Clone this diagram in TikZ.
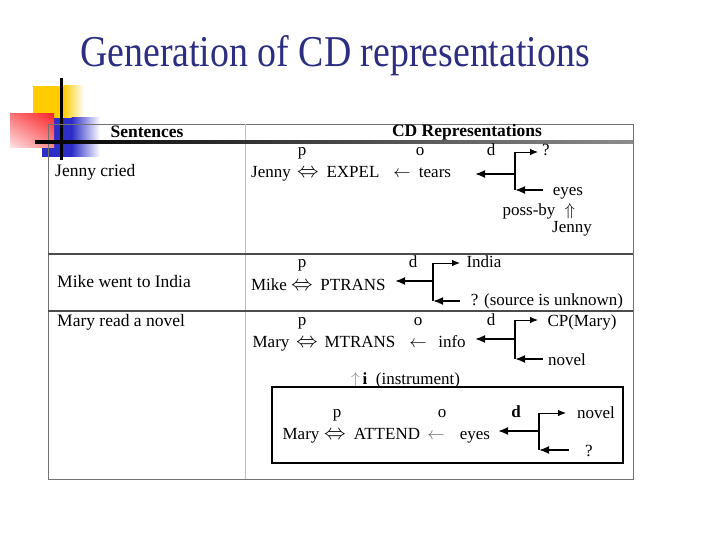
\documentclass[tikz,border=0pt]{standalone}
\usepackage{graphicx}
\usepackage{fontspec}
\setmainfont{Liberation Serif}
\usetikzlibrary{arrows.meta,shadings}
\definecolor{titleB}{RGB}{45,45,130}
\definecolor{decoY}{RGB}{255,204,0}
\definecolor{decoR}{RGB}{250,40,45}
\definecolor{decoB}{RGB}{45,45,200}

\begin{document}
\begin{tikzpicture}[x=1pt,y=-1pt,
  txt/.style={font=\fontsize{17}{19}\selectfont,anchor=base,inner sep=0pt},
  sent/.style={font=\fontsize{17.5}{19}\selectfont,anchor=base west,inner sep=0pt},
  hdr/.style={font=\fontsize{17.5}{19}\selectfont\bfseries,anchor=base,inner sep=0pt},
  thk/.style={-{Latex[length=10pt,width=8pt]},line width=1.8pt},
  thn/.style={-{Latex[length=8pt,width=6.5pt]},line width=0.9pt},
  bar/.style={line width=1.3pt}]
\useasboundingbox (0,0) rectangle (720,540);
% title
\node[anchor=base west,text=titleB,font=\fontsize{44}{48}\selectfont,inner sep=0pt] (title) at (80,67)
  {\scalebox{0.86}[1]{Generation of CD representations}};
% corner decoration
\fill[decoY] (33,86) rectangle (64,120);
\shade[left color=decoY,right color=white] (63.5,86) rectangle (84,120);
\fill[decoB] (42,118) rectangle (72,157);
\shade[left color=decoB,right color=white] (71.5,118) rectangle (100,157);
\shade[upper right=decoR,upper left=decoR!65,lower right=decoR!55,lower left=decoR!12] (10,114) rectangle (54,148);
\draw[line width=3pt] (61,78) -- (61,160);
% table
\draw[black!55,line width=0.8pt] (48,124) rectangle (633,479);
\draw[black!25,line width=0.8pt] (245,124) -- (245,479);
\shade[left color=black,right color=black!45] (35,140.5) rectangle (633,143.5);
\draw[black!70,line width=1.2pt] (48,254) -- (633,254);
\draw[black!70,line width=1.2pt] (48,311) -- (633,311);
\node[hdr] (hS) at (147,138) {Sentences};
\node[hdr] (hCD) at (467,137) {CD Representations};
\node[sent] (s1) at (55,177) {Jenny cried};
\node[sent] (s2) at (57,287) {Mike went to India};
\node[sent] (s3) at (57,326) {Mary read a novel};
% row 1
\foreach \t/\x in {p/302,o/420,d/491} \node[txt] (r1\t) at (\x,156) {\t};
\node[txt] (r1a) at (271,178) {Jenny};
\node[txt] (r1lr) at (308,178) {\scalebox{1.25}{$\Leftrightarrow$}};
\node[txt] (r1act) at (353,178) {EXPEL};
\node[txt] (r1la) at (402,178) {$\leftarrow$};
\node[txt] (r1obj) at (435,178) {tears};
\node[txt] (r1to) at (546,156) {?};
\node[txt] (r1from) at (568,196) {eyes};
\node[txt] (r1pb) at (529,215) {poss-by};
\node[txt] (r1up) at (570,215) {$\Uparrow$};
\node[txt] (r1own) at (572,233) {Jenny};
% row 2
\foreach \t/\x in {p/302,d/413} \node[txt] (r2\t) at (\x,267) {\t};
\node[txt] (r2a) at (269,290) {Mike};
\node[txt] (r2lr) at (302,290) {\scalebox{1.25}{$\Leftrightarrow$}};
\node[txt] (r2act) at (353,290) {PTRANS};
\node[txt] (r2to) at (484,267) {India};
\node[txt] (r2from) at (547,305) {? (source is unknown)};
% row 3
\foreach \t/\x in {p/302,o/418,d/491} \node[txt] (r3\t) at (\x,325) {\t};
\node[txt] (r3a) at (271,347) {Mary};
\node[txt] (r3lr) at (307,347) {\scalebox{1.25}{$\Leftrightarrow$}};
\node[txt] (r3act) at (360,347) {MTRANS};
\node[txt] (r3la) at (418,347) {$\leftarrow$};
\node[txt] (r3obj) at (452,347) {info};
\node[txt] (r3to) at (582,326) {CP(Mary)};
\node[txt] (r3from) at (567,365) {novel};
\node[txt,anchor=base west] (r3inst) at (351,384) {\textcolor{black!45}{$\uparrow$}\,\textbf{i}\ \ (instrument)};
% instrument box
\draw[line width=1.2pt] (272,387) rectangle (623,463);
\foreach \t/\x in {p/337,o/442} \node[txt] (r4\t) at (\x,417) {\t};
\node[txt,font=\fontsize{17}{19}\selectfont\bfseries] (r4d) at (516,417) {d};
\node[txt] (r4a) at (301,439) {Mary};
\node[txt] (r4lr) at (335,439) {\scalebox{1.25}{$\Leftrightarrow$}};
\node[txt] (r4act) at (387,439) {ATTEND};
\node[txt,text=black!60] (r4la) at (436,439) {$\leftarrow$};
\node[txt] (r4obj) at (475,439) {eyes};
\node[txt] (r4to) at (596,418) {novel};
\node[txt] (r4from) at (589,456) {?};
% forks: junction x, top y, mid y, bottom y, mid tip x, top tip x, bottom start x
\foreach \n/\jx/\ty/\my/\by/\mx/\tx/\bx in {1/515/152/174/190/475/538/543,
    2/433/263/281/301/395/460/460, 3/515/320/339/359/475/538/543,
    4/539/413/431/450/498/566/569}{
  \coordinate (f\n t) at (\jx,\ty);
  \coordinate (f\n m) at (\jx,\my);
  \coordinate (f\n b) at (\jx,\by);
  \coordinate (f\n mt) at (\mx,\my);
  \coordinate (f\n tt) at (\tx,\ty);
  \coordinate (f\n bs) at (\bx,\by);
  \draw[bar] (f\n t) -- (f\n b);
  \draw[thk] (f\n m) -- (f\n mt);
  \draw[thn] (f\n t) -- (f\n tt);
  \draw[thk] (f\n bs) -- (f\n b);
}
\end{tikzpicture}
\end{document}
